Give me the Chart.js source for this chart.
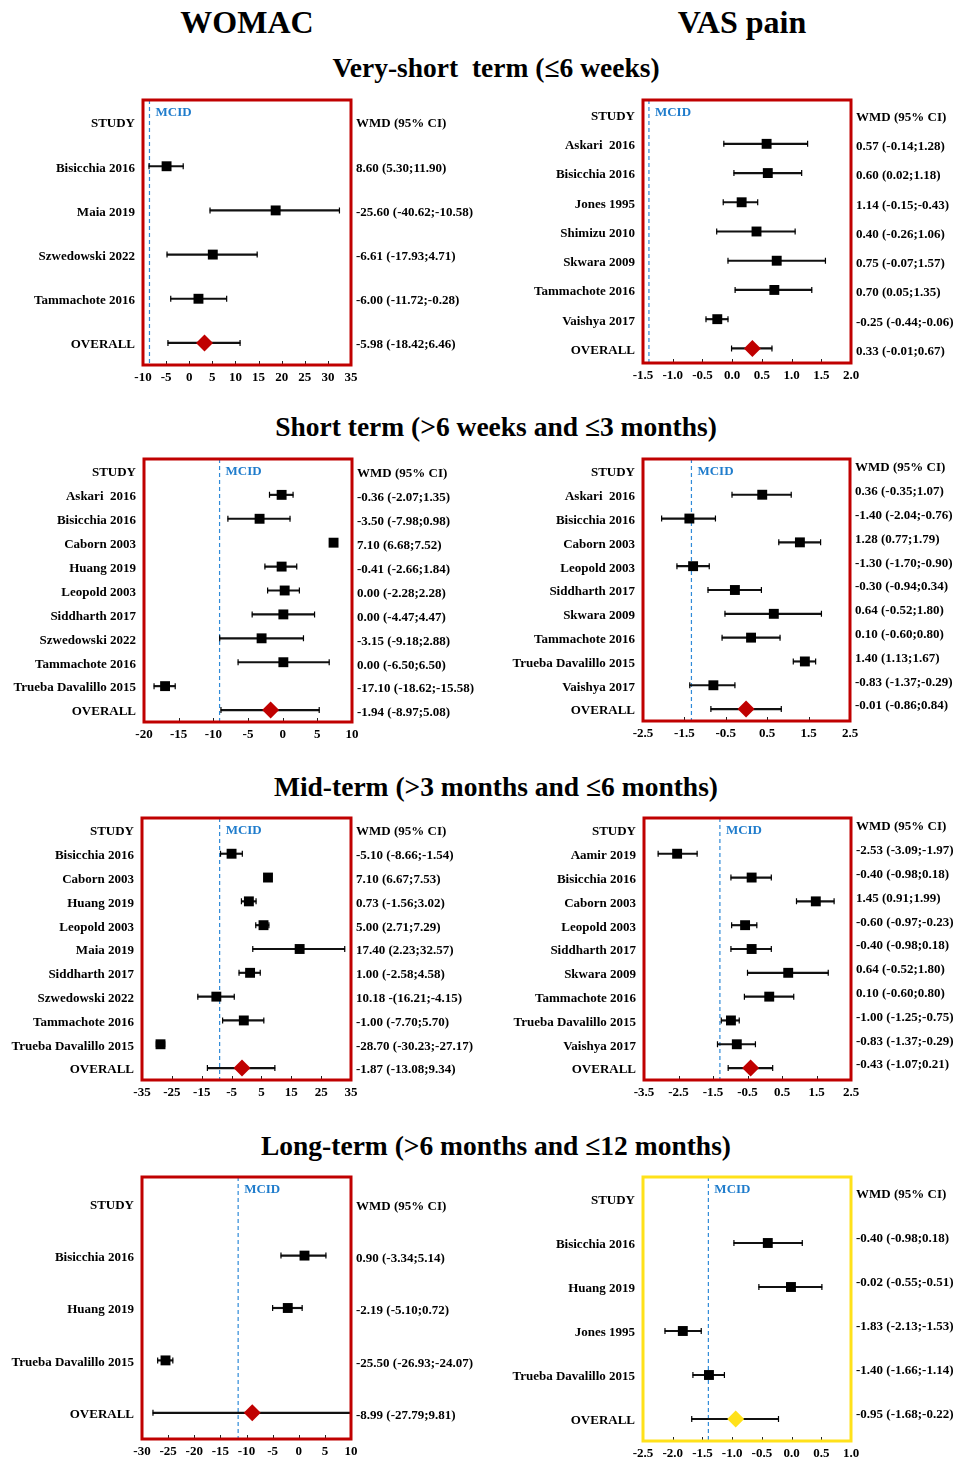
<!DOCTYPE html>
<html>
<head>
<meta charset="utf-8">
<script src="https://cdn.jsdelivr.net/npm/chart.js@4.4.1/dist/chart.umd.min.js"></script>
<style>
  body { margin: 0; background: #fff; }
  #page { position: relative; width: 960px; height: 1462px; overflow: hidden;
          font-family: 'Liberation Serif', 'Times New Roman', serif; font-weight: bold; color: #000; }
  .title { position: absolute; text-align: center; white-space: pre; line-height: 36px; }
  canvas { position: absolute; }
</style>
</head>
<body>
<div id="page">
  <div class="title" style="left:147px;width:200px;top:4px;font-size:32px">WOMAC</div>
  <div class="title" style="left:642px;width:200px;top:4px;font-size:32px">VAS pain</div>
  <div class="title" style="left:196px;width:600px;top:50px;font-size:27.5px">Very-short  term (≤6 weeks)</div>
  <div class="title" style="left:196px;width:600px;top:409px;font-size:27.5px">Short term (&gt;6 weeks and ≤3 months)</div>
  <div class="title" style="left:196px;width:600px;top:769px;font-size:27.5px">Mid-term (&gt;3 months and ≤6 months)</div>
  <div class="title" style="left:196px;width:600px;top:1128px;font-size:27.5px">Long-term (&gt;6 months and ≤12 months)</div>
</div>
<script>
// WOMAC - very-short term
const womacVsStudies = ['Bisicchia 2016', 'Maia 2019', 'Szwedowski 2022', 'Tammachote 2016', 'OVERALL'];
const womacVsEst = [-4.9, 18.7, 5.1, 2.0, 3.3];
const womacVsLow = [-8.7, 4.5, -4.8, -4.0, -4.6];
const womacVsHigh = [-1.3, 32.5, 14.7, 8.1, 11.0];
const womacVsWmd = ['8.60 (5.30;11.90)', '-25.60 (-40.62;-10.58)', '-6.61 (-17.93;4.71)', '-6.00 (-11.72;-0.28)', '-5.98 (-18.42;6.46)'];
const womacVsTicks = [-10, 35, 5];
const womacVsMcid = -8.6;

// VAS - very-short term
const vasVsStudies = ['Askari  2016', 'Bisicchia 2016', 'Jones 1995', 'Shimizu 2010', 'Skwara 2009', 'Tammachote 2016', 'Vaishya 2017', 'OVERALL'];
const vasVsEst = [0.58, 0.60, 0.16, 0.41, 0.75, 0.71, -0.25, 0.34];
const vasVsLow = [-0.14, 0.03, -0.15, -0.26, -0.07, 0.05, -0.44, -0.01];
const vasVsHigh = [1.27, 1.17, 0.43, 1.06, 1.57, 1.34, -0.07, 0.67];
const vasVsWmd = ['0.57 (-0.14;1.28)', '0.60 (0.02;1.18)', '1.14 (-0.15;-0.43)', '0.40 (-0.26;1.06)', '0.75 (-0.07;1.57)', '0.70 (0.05;1.35)', '-0.25 (-0.44;-0.06)', '0.33 (-0.01;0.67)'];
const vasVsTicks = [-1.5, 2.0, 0.5];
const vasVsMcid = -1.40;

// WOMAC - short term
const womacStStudies = ['Askari  2016', 'Bisicchia 2016', 'Caborn 2003', 'Huang 2019', 'Leopold 2003', 'Siddharth 2017', 'Szwedowski 2022', 'Tammachote 2016', 'Trueba Davalillo 2015', 'OVERALL'];
const womacStEst = [-0.15, -3.33, 7.34, -0.15, 0.29, 0.10, -3.04, 0.10, -16.96, -1.74];
const womacStLow = [-1.9, -7.9, 6.9, -2.56, -2.17, -4.4, -9.08, -6.43, -18.55, -8.9];
const womacStHigh = [1.5, 1.06, 7.7, 2.03, 2.41, 4.6, 3.0, 6.71, -15.5, 5.27];
const womacStWmd = ['-0.36 (-2.07;1.35)', '-3.50 (-7.98;0.98)', '7.10 (6.68;7.52)', '-0.41 (-2.66;1.84)', '0.00 (-2.28;2.28)', '0.00 (-4.47;4.47)', '-3.15 (-9.18;2.88)', '0.00 (-6.50;6.50)', '-17.10 (-18.62;-15.58)', '-1.94 (-8.97;5.08)'];
const womacStTicks = [-20, 10, 5];
const womacStMcid = -9.1;

// VAS - short term
const vasStStudies = ['Askari  2016', 'Bisicchia 2016', 'Caborn 2003', 'Leopold 2003', 'Siddharth 2017', 'Skwara 2009', 'Tammachote 2016', 'Trueba Davalillo 2015', 'Vaishya 2017', 'OVERALL'];
const vasStEst = [0.38, -1.38, 1.29, -1.29, -0.28, 0.66, 0.11, 1.41, -0.80, -0.01];
const vasStLow = [-0.35, -2.05, 0.78, -1.68, -0.93, -0.52, -0.59, 1.13, -1.37, -0.86];
const vasStHigh = [1.08, -0.75, 1.79, -0.90, 0.36, 1.81, 0.81, 1.67, -0.28, 0.84];
const vasStWmd = ['0.36 (-0.35;1.07)', '-1.40 (-2.04;-0.76)', '1.28 (0.77;1.79)', '-1.30 (-1.70;-0.90)', '-0.30 (-0.94;0.34)', '0.64 (-0.52;1.80)', '0.10 (-0.60;0.80)', '1.40 (1.13;1.67)', '-0.83 (-1.37;-0.29)', '-0.01 (-0.86;0.84)'];
const vasStTicks = [-2.5, 2.5, 1];
const vasStMcid = -1.33;

// WOMAC - mid-term
const womacMtStudies = ['Bisicchia 2016', 'Caborn 2003', 'Huang 2019', 'Leopold 2003', 'Maia 2019', 'Siddharth 2017', 'Szwedowski 2022', 'Tammachote 2016', 'Trueba Davalillo 2015', 'OVERALL'];
const womacMtEst = [-5.0, 7.2, 0.8, 5.7, 17.8, 1.2, -10.1, -0.9, -28.8, -1.5];
const womacMtLow = [-8.7, 6.7, -1.7, 3.1, 2.1, -2.5, -16.3, -8.0, -30.2, -13.1];
const womacMtHigh = [-1.4, 7.5, 3.2, 7.5, 32.9, 4.6, -4.1, 5.8, -27.4, 9.5];
const womacMtWmd = ['-5.10 (-8.66;-1.54)', '7.10 (6.67;7.53)', '0.73 (-1.56;3.02)', '5.00 (2.71;7.29)', '17.40 (2.23;32.57)', '1.00 (-2.58;4.58)', '10.18 -(16.21;-4.15)', '-1.00 (-7.70;5.70)', '-28.70 (-30.23;-27.17)', '-1.87 (-13.08;9.34)'];
const womacMtTicks = [-35, 35, 10];
const womacMtMcid = -9.0;

// VAS - mid-term
const vasMtStudies = ['Aamir 2019', 'Bisicchia 2016', 'Caborn 2003', 'Leopold 2003', 'Siddharth 2017', 'Skwara 2009', 'Tammachote 2016', 'Trueba Davalillo 2015', 'Vaishya 2017', 'OVERALL'];
const vasMtEst = [-2.54, -0.38, 1.48, -0.57, -0.38, 0.68, 0.13, -0.98, -0.81, -0.41];
const vasMtLow = [-3.09, -0.98, 0.92, -0.96, -0.98, -0.50, -0.59, -1.26, -1.37, -1.06];
const vasMtHigh = [-1.96, 0.19, 2.01, -0.23, 0.19, 1.84, 0.84, -0.74, -0.27, 0.23];
const vasMtWmd = ['-2.53 (-3.09;-1.97)', '-0.40 (-0.98;0.18)', '1.45 (0.91;1.99)', '-0.60 (-0.97;-0.23)', '-0.40 (-0.98;0.18)', '0.64 (-0.52;1.80)', '0.10 (-0.60;0.80)', '-1.00 (-1.25;-0.75)', '-0.83 (-1.37;-0.29)', '-0.43 (-1.07;0.21)'];
const vasMtTicks = [-3.5, 2.5, 1];
const vasMtMcid = -1.30;

// WOMAC - long-term
const womacLtStudies = ['Bisicchia 2016', 'Huang 2019', 'Trueba Davalillo 2015', 'OVERALL'];
const womacLtEst = [1.1, -2.1, -25.5, -8.9];
const womacLtLow = [-3.4, -5.0, -27.0, -27.9];
const womacLtHigh = [5.2, 0.65, -24.1, 10.2];
const womacLtWmd = ['0.90 (-3.34;5.14)', '-2.19 (-5.10;0.72)', '-25.50 (-26.93;-24.07)', '-8.99 (-27.79;9.81)'];
const womacLtTicks = [-30, 10, 5];
const womacLtMcid = -11.6;

// VAS - long-term
const vasLtStudies = ['Bisicchia 2016', 'Huang 2019', 'Jones 1995', 'Trueba Davalillo 2015', 'OVERALL'];
const vasLtEst = [-0.40, -0.01, -1.83, -1.39, -0.94];
const vasLtLow = [-0.97, -0.55, -2.13, -1.66, -1.68];
const vasLtHigh = [0.18, 0.51, -1.52, -1.13, -0.22];
const vasLtWmd = ['-0.40 (-0.98;0.18)', '-0.02 (-0.55;-0.51)', '-1.83 (-2.13;-1.53)', '-1.40 (-1.66;-1.14)', '-0.95 (-1.68;-0.22)'];
const vasLtTicks = [-2.5, 1.0, 0.5];
const vasLtMcid = -1.40;

const RED = '#c00000';
const YELLOW = '#ffe11a';
const FONT = "'Liberation Serif', 'Times New Roman', serif";

// panel boxes: [left, top, right, bottom] of the framed plot area
const panels = [
    { col: 0, box: [143, 100, 351, 365], studies: womacVsStudies, est: womacVsEst, lo: womacVsLow, hi: womacVsHigh, wmd: womacVsWmd, ticks: womacVsTicks, mcid: womacVsMcid, dec: 0, shift: 2, color: RED },
    { col: 1, box: [643, 100, 851, 363], studies: vasVsStudies, est: vasVsEst, lo: vasVsLow, hi: vasVsHigh, wmd: vasVsWmd, ticks: vasVsTicks, mcid: vasVsMcid, dec: 1, shift: 3, color: RED },
    { col: 0, box: [144, 459, 352, 722], studies: womacStStudies, est: womacStEst, lo: womacStLow, hi: womacStHigh, wmd: womacStWmd, ticks: womacStTicks, mcid: womacStMcid, dec: 0, shift: 3, color: RED },
    { col: 1, box: [643, 459, 850, 721], studies: vasStStudies, est: vasStEst, lo: vasStLow, hi: vasStHigh, wmd: vasStWmd, ticks: vasStTicks, mcid: vasStMcid, dec: 1, shift: -3, color: RED },
    { col: 0, box: [142, 818, 351, 1080], studies: womacMtStudies, est: womacMtEst, lo: womacMtLow, hi: womacMtHigh, wmd: womacMtWmd, ticks: womacMtTicks, mcid: womacMtMcid, dec: 0, shift: 2, color: RED },
    { col: 1, box: [644, 818, 851, 1080], studies: vasMtStudies, est: vasMtEst, lo: vasMtLow, hi: vasMtHigh, wmd: vasMtWmd, ticks: vasMtTicks, mcid: vasMtMcid, dec: 1, shift: -3, color: RED },
    { col: 0, box: [142, 1177, 351, 1439], studies: womacLtStudies, est: womacLtEst, lo: womacLtLow, hi: womacLtHigh, wmd: womacLtWmd, ticks: womacLtTicks, mcid: womacLtMcid, dec: 0, shift: 3, color: RED },
    { col: 1, box: [643, 1177, 851, 1441], studies: vasLtStudies, est: vasLtEst, lo: vasLtLow, hi: vasLtHigh, wmd: vasLtWmd, ticks: vasLtTicks, mcid: vasLtMcid, dec: 1, shift: -4, color: YELLOW }
];

// MCID line, inner tick marks and coloured frame
const panelFrame = {
    id: 'panelFrame',
    beforeDatasetsDraw(chart, args, opts) {
        const { ctx, chartArea: a } = chart;
        const mx = chart.scales.x.getPixelForValue(opts.mcid);
        ctx.save();
        ctx.strokeStyle = '#2f8ad8';
        ctx.lineWidth = 1.2;
        ctx.setLineDash([4, 3]);
        ctx.beginPath();
        ctx.moveTo(mx, a.top);
        ctx.lineTo(mx, a.bottom);
        ctx.stroke();
        ctx.setLineDash([]);
        ctx.fillStyle = '#1f7ccc';
        ctx.font = 'bold 13px ' + FONT;
        ctx.textBaseline = 'middle';
        ctx.fillText('MCID', mx + 6, a.top + 13);
        ctx.restore();
    },
    afterDatasetsDraw(chart, args, opts) {
        const { ctx, chartArea: a } = chart;
        const x = chart.scales.x;
        ctx.save();
        ctx.strokeStyle = '#222';
        ctx.lineWidth = 1;
        x.ticks.forEach((t, i) => {
            const px = Math.round(x.getPixelForTick(i)) + 0.5;
            ctx.beginPath();
            ctx.moveTo(px, a.bottom);
            ctx.lineTo(px, a.bottom - 4);
            ctx.stroke();
        });
        ctx.strokeStyle = opts.color;
        ctx.lineWidth = 3;
        ctx.strokeRect(a.left, a.top, a.width, a.height);
        ctx.restore();
    }
};

function pad(arr) {
    return [null].concat(arr);
}

// Crea un forest plot
function makePanel(p) {
    const [bl, bt, br, bb] = p.box;
    const canvasLeft = p.col * 480;
    const canvasTop = bt - 20;
    const width = 480;
    const height = bb - canvasTop + 30;

    const canvas = document.createElement('canvas');
    canvas.width = width;
    canvas.height = height;
    canvas.style.left = canvasLeft + 'px';
    canvas.style.top = canvasTop + 'px';
    document.getElementById('page').appendChild(canvas);

    const n = p.studies.length;
    const squares = pad(p.est.map((v, i) => i < n - 1 ? v : null));
    const diamond = pad(p.est.map((v, i) => i === n - 1 ? v : null));
    const ranges = pad(p.lo.map((l, i) => [l, p.hi[i]]));
    const labelFont = { family: FONT, size: 13, weight: 'bold' };

    new Chart(canvas, {
        type: 'bar',
        data: {
            labels: ['STUDY'].concat(p.studies),
            datasets: [
                { type: 'line', indexAxis: 'y', data: squares, showLine: false, pointStyle: 'rect', pointRadius: 7,
                  pointBackgroundColor: '#000', pointBorderWidth: 0 },
                { type: 'line', indexAxis: 'y', data: diamond, showLine: false, pointStyle: 'rectRot', pointRadius: 8.5,
                  pointBackgroundColor: p.color, pointBorderWidth: 0 },
                { type: 'line', indexAxis: 'y', data: pad(p.lo), showLine: false, pointStyle: 'line', pointRotation: 90,
                  pointRadius: 3, pointBorderColor: '#000', pointBorderWidth: 1.2 },
                { type: 'line', indexAxis: 'y', data: pad(p.hi), showLine: false, pointStyle: 'line', pointRotation: 90,
                  pointRadius: 3, pointBorderColor: '#000', pointBorderWidth: 1.2 },
                { type: 'bar', data: ranges, backgroundColor: '#111', barThickness: 1.5 }
            ]
        },
        options: {
            indexAxis: 'y',
            responsive: false,
            animation: false,
            devicePixelRatio: 1,
            layout: { padding: { top: 20, left: 0, right: 0, bottom: 0 } },
            plugins: {
                legend: { display: false },
                tooltip: { enabled: false },
                panelFrame: { mcid: p.mcid, color: p.color }
            },
            scales: {
                x: {
                    type: 'linear', min: p.ticks[0], max: p.ticks[1],
                    ticks: { stepSize: p.ticks[2], autoSkip: false, maxRotation: 0, minRotation: 0, padding: 5,
                             color: '#000', font: labelFont, callback: v => v.toFixed(p.dec) },
                    grid: { display: false, drawTicks: false },
                    border: { display: false },
                    afterFit: s => { s.height = 30; }
                },
                y: {
                    type: 'category', position: 'left', offset: true,
                    ticks: { autoSkip: false, padding: 8, labelOffset: 2, color: '#000', font: labelFont },
                    grid: { display: false, drawTicks: false },
                    border: { display: false },
                    afterFit: s => { s.width = bl - canvasLeft; }
                },
                yR: {
                    type: 'category', position: 'right', offset: true,
                    labels: ['WMD (95% CI)'].concat(p.wmd),
                    ticks: { autoSkip: false, padding: 5, labelOffset: p.shift, color: '#000', font: labelFont },
                    grid: { display: false, drawTicks: false },
                    border: { display: false },
                    afterFit: s => { s.width = canvasLeft + width - br; }
                }
            }
        },
        plugins: [panelFrame]
    });
}

panels.forEach(makePanel);
</script>
</body>
</html>
